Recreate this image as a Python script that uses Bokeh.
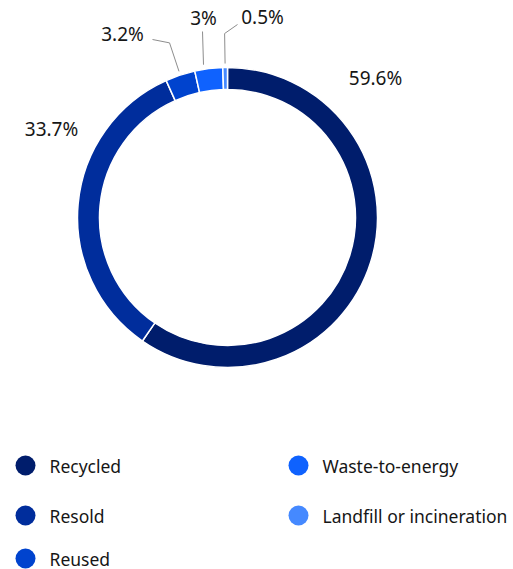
import numpy as np
from bokeh.plotting import figure
from bokeh.models import Range1d, ColumnDataSource
from bokeh.core.properties import value
from bokeh.embed import file_html
from bokeh.resources import INLINE

# ---- data ----
categories = ["Recycled", "Resold", "Reused", "Waste-to-energy", "Landfill or incineration"]
shares = [59.6, 33.7, 3.2, 3.0, 0.5]
labels = ["59.6%", "33.7%", "3.2%", "3%", "0.5%"]
colors = ["#001d6c", "#002d9c", "#0043ce", "#0f62fe", "#4589ff"]

# ---- layout (picture pixel coordinates, y downward) ----
W, H = 513, 569
CX, CY = 227, 217
R_OUT, R_IN = 150, 128
FONT = "Noto Sans"
TXT = "#161616"

def sy(y):  # picture y (downward) -> data y (upward)
    return H - y

def polar(theta_cw_deg, r):
    t = np.deg2rad(theta_cw_deg)
    return CX + r * np.sin(t), CY - r * np.cos(t)

p = figure(width=W, height=H, output_backend="svg", toolbar_location=None,
           x_range=Range1d(0, W), y_range=Range1d(0, H), min_border=0)
p.axis.visible = False
p.grid.visible = False
p.outline_line_color = None
p.background_fill_color = "white"

vals = np.array(shares)
frac = vals / vals.sum()
ends = np.cumsum(frac) * 360.0
starts = ends - frac * 360.0
mids = (starts + ends) / 2

src = ColumnDataSource(dict(
    x=[CX] * len(vals), y=[sy(CY)] * len(vals),
    start=[np.pi / 2 - np.deg2rad(s) for s in starts],
    end=[np.pi / 2 - np.deg2rad(e) for e in ends],
    color=colors,
))
p.annular_wedge(x="x", y="y", inner_radius=R_IN, outer_radius=R_OUT,
                start_angle="start", end_angle="end", direction="clock",
                fill_color="color", line_color="white", line_width=1.5, source=src)

# label anchors
label_pos = [(375, 77), (51, 128), (122, 33), (203, 17), (262, 16)]
lx = [a for a, b in label_pos]
ly = [sy(b) for a, b in label_pos]
p.text(x=lx, y=ly, text=labels, text_font=value(FONT), text_font_size="19px",
       text_color=TXT, text_align="center", text_baseline="middle")

# leader lines for small slices
label_end = {2: (152, 39), 3: (202, 31), 4: (237, 24)}
for i, (ex, ey) in label_end.items():
    x0, y0 = polar(mids[i], R_OUT + 4)
    x1, y1 = polar(mids[i], R_OUT + 34)
    if i == 3:
        x0, x1 = ex + 1, ex
        y1 = ey
    p.line([x0, x1, ex], [sy(y0), sy(y1), sy(ey)], line_color="#8d8d8d", line_width=1)

# legend
col_x = [25, 298]
row_y = [465, 515, 558]
mx = [col_x[i // 3] for i in range(len(categories))]
my = [sy(row_y[i % 3]) for i in range(len(categories))]
p.scatter(x=mx, y=my, size=20, marker="circle", fill_color=colors, line_color=None)
p.text(x=[m + 24 for m in mx], y=my, text=categories, text_font=value(FONT),
       text_font_size="17.5px", text_color=TXT, text_align="left", text_baseline="middle")

open("out.html", "w").write(file_html(p, INLINE))
